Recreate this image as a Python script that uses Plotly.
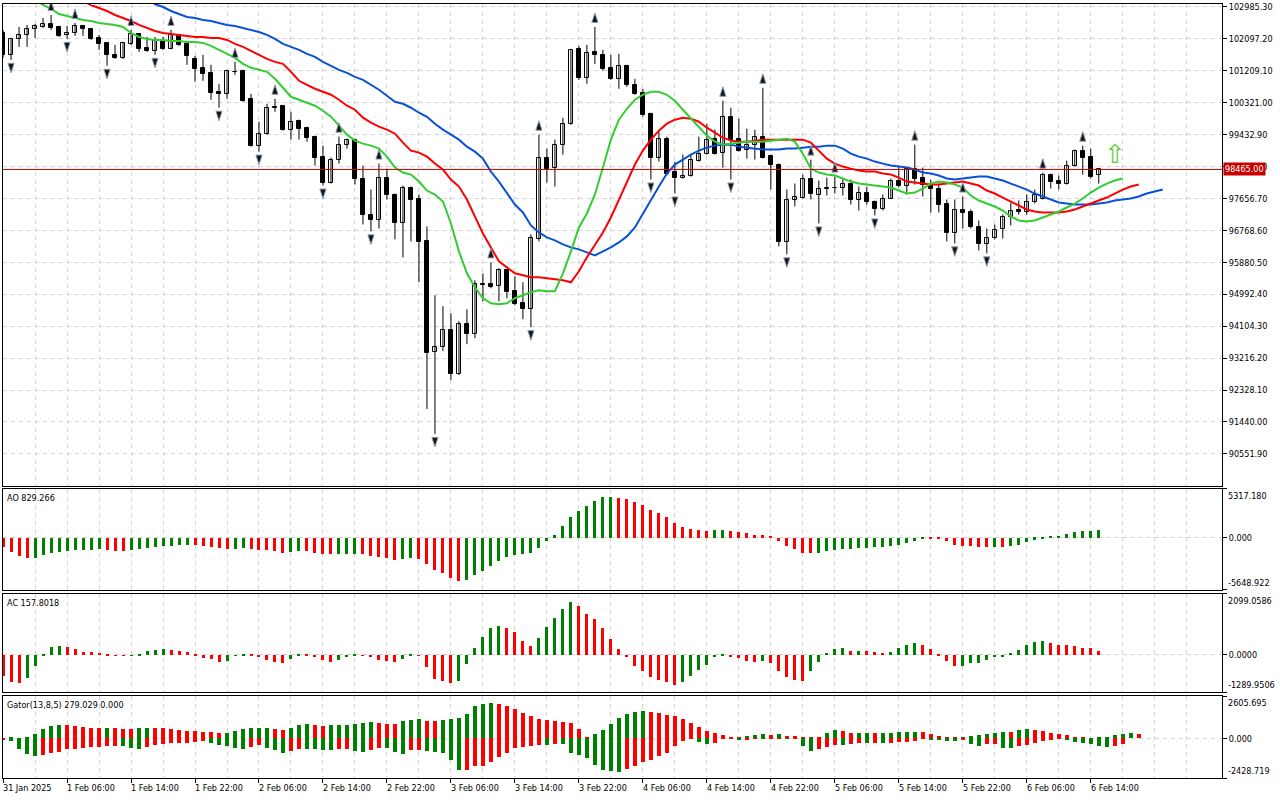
# -*- coding: utf-8 -*-

# Import needed libraries
import pandas as pd
import plotly.graph_objects as go
from plotly.subplots import make_subplots

# Hourly bars, the first visible one opens 31 Jan 2025 22:00
first_bar = '2025-01-31 22:00'

# OHLC prices (138 bars)
bar_open = [102263, 101653, 102097, 102208, 102375, 102430, 102513, 102430, 102208, 102263,
            102458, 102375, 102125, 101986, 101653, 101570, 101958, 102236, 101847, 101764,
            102041, 101820, 102208, 101958, 101542, 101292, 101153, 100626, 100571, 101181,
            101209, 100432, 99128, 99461, 100210, 100238, 99572, 99822, 99627, 99377,
            98822, 98100, 98739, 99156, 99294, 98212, 97212, 97046, 98240, 97768,
            96963, 97962, 97657, 96463, 93383, 93521, 93993, 92772, 94160, 93882,
            95270, 95270, 95215, 95659, 95076, 94742, 94576, 96519, 98795, 98517,
            99156, 99738, 101820, 101015, 101736, 101653, 101292, 100987, 101348, 100820,
            100598, 100016, 98795, 99322, 98406, 98240, 98295, 98712, 98906, 99322,
            98934, 99933, 99322, 99017, 99156, 99377, 98850, 98600, 96436, 97629,
            97685, 98212, 97768, 97934, 97962, 97962, 98073, 97629, 97823, 97573,
            97379, 97657, 98156, 98017, 98489, 98240, 98045, 97934, 97518, 96685,
            97324, 97268, 96852, 96380, 96546, 96797, 97129, 97324, 97268, 97546,
            97657, 98323, 98156, 98073, 98573, 98989, 98822, 98323]
bar_high = [102347, 102125, 102430, 102486, 102513, 102680, 102763, 102458, 102458, 102541,
            102486, 102402, 102208, 101986, 101931, 102014, 102347, 102263, 102152, 102152,
            102152, 102347, 102236, 101986, 101625, 101653, 101376, 100848, 101237, 101459,
            101237, 100571, 99794, 100293, 100432, 100238, 100071, 99850, 99655, 99405,
            99128, 98795, 99377, 99322, 99322, 98573, 97906, 98629, 98489, 97796,
            98017, 97990, 97768, 96880, 94965, 94659, 94465, 94243, 94576, 95381,
            95575, 95881, 95714, 95686, 95492, 95326, 96658, 99433, 99045, 99294,
            99905, 101820, 101903, 101931, 102430, 101792, 101653, 101681, 101376, 100987,
            100709, 100043, 99516, 99377, 98684, 98878, 98878, 99377, 99738, 99572,
            100377, 100182, 99877, 99600, 99572, 100737, 98878, 98629, 97906, 98073,
            98323, 98739, 98156, 98240, 98267, 98212, 98184, 97990, 97990, 97601,
            97768, 98212, 98545, 98517, 99156, 98517, 98184, 98073, 97629, 97629,
            97712, 97352, 97046, 96824, 96935, 97213, 97546, 97601, 97768, 97906,
            98378, 98351, 98295, 98712, 99017, 99128, 99045, 98465]
bar_low = [101570, 101514, 101875, 101875, 102125, 102402, 102347, 102152, 102097, 102180,
           102180, 102069, 101792, 101348, 101542, 101542, 101931, 101736, 101736, 101653,
           101792, 101810, 101903, 101376, 100904, 100932, 100404, 100182, 100432, 101098,
           100349, 99100, 98961, 99433, 100071, 99544, 99294, 99294, 99239, 98573,
           98017, 98073, 98629, 99045, 98045, 96935, 96741, 96824, 97629, 96519,
           96019, 96463, 95326, 91801, 91107, 93410, 92605, 92744, 93605, 93771,
           94798, 95159, 94798, 94881, 94687, 94298, 94077, 96463, 98100, 97990,
           98878, 99711, 100959, 100848, 101403, 101209, 100959, 100709, 100765, 100543,
           99933, 98184, 98684, 98295, 97795, 98212, 98267, 98684, 98878, 98878,
           98517, 98184, 98961, 98767, 98739, 98767, 97906, 96325, 96103, 97435,
           97657, 97629, 96963, 97740, 97796, 97740, 97490, 97324, 97490, 97185,
           97324, 97650, 97962, 97768, 98045, 97712, 97268, 97268, 96463, 96408,
           96824, 96824, 96213, 96130, 96519, 96546, 96907, 97212, 97212, 97518,
           97629, 97934, 97906, 98045, 98545, 98323, 98212, 98073]
bar_close = [101653, 102097, 102208, 102375, 102458, 102513, 102402, 102180, 102263, 102458,
             102375, 102097, 101958, 101653, 101570, 101986, 102236, 101820, 101764, 102041,
             101820, 102208, 101931, 101625, 101265, 101126, 100598, 100571, 101209, 101167,
             100377, 99128, 99461, 100182, 100182, 99572, 99794, 99600, 99350, 98795,
             98100, 98739, 99156, 99294, 98212, 97212, 97046, 98240, 97768, 96963,
             97962, 97629, 96436, 93355, 93521, 93993, 92772, 94160, 93882, 95270,
             95256, 95187, 95659, 95048, 94715, 94576, 96546, 98795, 98489, 99156,
             99738, 101792, 101015, 101709, 101653, 101265, 100987, 101348, 100820, 100571,
             99988, 98795, 99322, 98351, 98240, 98295, 98739, 98906, 99294, 98906,
             99933, 99294, 98989, 99156, 99377, 98795, 98600, 96436, 97629, 97712,
             98212, 97796, 97934, 97962, 97948, 98073, 97629, 97823, 97546, 97379,
             97657, 98156, 98017, 98489, 98212, 98045, 97934, 97490, 96685, 97324,
             97240, 96852, 96380, 96546, 96769, 97129, 97296, 97268, 97573, 97768,
             98323, 98128, 98073, 98573, 98989, 98795, 98267, 98465]

# Alligator lines (already shifted ahead), each list starts at the given bar
jaw_start = 18
jaw = [103180, 103068, 102985, 102874, 102790, 102707, 102679, 102624, 102596, 102541,
       102486, 102458, 102402, 102347, 102291, 102208, 102097, 101958, 101875, 101792,
       101680, 101597, 101459, 101348, 101237, 101153, 101042, 100959, 100821, 100682,
       100515, 100349, 100293, 100182, 100043, 99932, 99738, 99572, 99433, 99294,
       99100, 98961, 98767, 98406, 98128, 97795, 97490, 97268, 96907, 96713,
       96574, 96491, 96380, 96297, 96241, 96158, 96075, 96186, 96297, 96435,
       96602, 96852, 97240, 97629, 97990, 98351, 98601, 98740, 98878, 98989,
       99072, 99128, 99156, 99156, 99100, 99072, 99045, 99017, 99017, 99017,
       99045, 99045, 99072, 99100, 99100, 99128, 99128, 99045, 98905, 98822,
       98767, 98684, 98628, 98573, 98545, 98517, 98462, 98378, 98350, 98295,
       98212, 98184, 98212, 98239, 98267, 98267, 98212, 98156, 98072, 97990,
       97906, 97795, 97712, 97629, 97545, 97517, 97490, 97490, 97490, 97517,
       97545, 97601, 97629, 97656, 97712, 97795, 97851, 97906]
teeth_start = 10
teeth = [103152, 103041, 102957, 102874, 102763, 102679, 102596, 102486, 102402, 102319,
         102263, 102235, 102208, 102180, 102152, 102152, 102124, 102124, 102069, 101958,
         101875, 101764, 101653, 101542, 101459, 101403, 101181, 100932, 100821, 100710,
         100626, 100543, 100404, 100238, 100127, 99905, 99766, 99655, 99572, 99460,
         99211, 98989, 98933, 98822, 98628, 98462, 98184, 97990, 97629, 97157,
         96685, 96297, 95908, 95741, 95575, 95520, 95464, 95464, 95437, 95409,
         95381, 95325, 95631, 96019, 96352, 96713, 97129, 97629, 98128, 98601,
         98989, 99294, 99544, 99738, 99849, 99905, 99877, 99794, 99627, 99488,
         99349, 99267, 99239, 99239, 99267, 99294, 99294, 99294, 99294, 99294,
         99294, 99211, 98989, 98767, 98628, 98545, 98489, 98434, 98406, 98406,
         98351, 98323, 98240, 98128, 98100, 98072, 98045, 98045, 98072, 98100,
         98128, 98072, 98017, 97878, 97795, 97684, 97573, 97462, 97351, 97296,
         97268, 97268, 97268, 97296, 97351, 97434, 97517, 97601, 97684, 97795,
         97906, 97990, 98045]
lips_start = 4
lips = [103180, 103041, 102930, 102790, 102735, 102679, 102624, 102596, 102541, 102513,
        102486, 102430, 102263, 102152, 102097, 102069, 102069, 102041, 102041, 102014,
        102014, 101986, 101903, 101792, 101680, 101569, 101403, 101292, 101237, 101181,
        100987, 100737, 100487, 100404, 100321, 100238, 100099, 99933, 99683, 99433,
        99266, 99183, 99128, 99044, 98822, 98517, 98378, 98323, 98128, 97878,
        97768, 97573, 96962, 96186, 95575, 95187, 94881, 94743, 94715, 94743,
        94881, 94965, 95048, 95103, 95076, 95076, 95575, 96186, 96852, 97240,
        97768, 98517, 99294, 99849, 100154, 100404, 100543, 100626, 100626, 100543,
        100376, 100126, 99877, 99627, 99405, 99239, 99156, 99183, 99211, 99239,
        99239, 99239, 99267, 99294, 99322, 99239, 98905, 98489, 98378, 98323,
        98295, 98212, 98128, 98072, 98045, 98017, 97990, 97962, 97878, 97795,
        97823, 97934, 98072, 98128, 98100, 98045, 97962, 97740, 97601, 97517,
        97434, 97323, 97157, 97046, 97018, 97046, 97129, 97212, 97296, 97407,
        97517, 97656, 97823, 97962, 98072, 98156, 98212]

# Bars that carry a fractal arrow
fractal_up = [6, 9, 16, 21, 29, 34, 42, 47, 61, 67, 74, 90, 95, 101, 104, 114, 120, 130, 135]
fractal_down = [1, 8, 13, 19, 27, 32, 40, 46, 54, 66, 81, 84, 91, 98, 102, 109, 119, 123]

# Buy signal arrow and the current bid
signal_bar = [139]
signal_price = [98906]
last_price = 98465.00

# Awesome oscillator and accelerator (one value per bar)
ao = [-1014, -1557, -2027, -2208, -2172, -1919, -1665, -1557, -1448, -1376,
      -1340, -1303, -1267, -1376, -1412, -1448, -1303, -1267, -1158, -1014,
      -905, -833, -796, -778, -796, -905, -1014, -1158, -1267, -1195,
      -1158, -1195, -1303, -1376, -1448, -1629, -1557, -1448, -1484, -1665,
      -1774, -1810, -1792, -1774, -1756, -1810, -1991, -2100, -2172, -2462,
      -2281, -2208, -2353, -2824, -3548, -3837, -4380, -4706, -4634, -4018,
      -3620, -3113, -2570, -2100, -1919, -1774, -1665, -1122, -362, 326,
      1339, 2317, 2968, 3511, 4054, 4489, 4495, 4344, 4235, 3946,
      3620, 3077, 2679, 2244, 1593, 1231, 977, 869, 796, 805,
      815, 800, 688, 579, 362, 350, 145, -362, -833, -1267,
      -1665, -1680, -1670, -1484, -1376, -1267, -1260, -1158, -1086, -1014,
      -1005, -905, -724, -507, -290, -60, -75, -110, -362, -724,
      -833, -905, -1014, -1020, -1005, -1030, -905, -760, -471, -217,
      -36, 140, 250, 430, 640, 730, 790, 829.266]
ac = [-707, -935, -969, -798, -388, 34, 296, 319, 296, 205,
      125, 103, 80, 23, -11, -20, -5, 57, 148, 182,
      228, 182, 148, 114, 11, -80, -148, -251, -217, -23,
      46, 23, -68, -171, -251, -260, -137, 34, 20, -30,
      -171, -251, -171, -34, 23, -23, -46, -171, -194, -251,
      -137, 34, -23, -422, -821, -878, -969, -878, -308, 262,
      638, 946, 1003, 946, 798, 490, 319, 604, 969, 1288,
      1596, 1824, 1687, 1402, 1254, 946, 547, 205, -57, -388,
      -536, -741, -855, -935, -1015, -935, -707, -502, -331, -57,
      23, -34, -80, -194, -251, -217, -285, -559, -764, -844,
      -878, -559, -251, 91, 228, 235, 148, 155, 148, 114,
      91, 114, 262, 342, 433, 353, 228, 57, -194, -388,
      -380, -285, -280, -171, -57, -34, 80, 182, 353, 456,
      490, 410, 353, 345, 330, 262, 255, 157.8018]

# Gator oscillator, upper runs 5 bars past the last candle, lower 3 bars
gator_up = [20, 81, 10, 30, 284, 548, 751, 812, 800, 751,
            690, 650, 640, 650, 645, 589, 548, 609, 650, 645,
            609, 548, 487, 447, 440, 406, 400, 345, 350, 447,
            548, 609, 650, 655, 548, 487, 650, 812, 853, 812,
            751, 792, 800, 832, 853, 954, 1035, 954, 893, 853,
            1096, 1157, 1160, 1096, 1090, 1157, 1165, 1238, 1523, 1969,
            2132, 2192, 2132, 2010, 1827, 1583, 1360, 1218, 1117, 1056,
            1035, 914, 548, 61, 264, 508, 873, 1238, 1482, 1604,
            1665, 1604, 1543, 1421, 1360, 1177, 934, 690, 447, 325,
            203, 102, 61, 142, 203, 264, 203, 264, 162, 142,
            102, 70, 45, 345, 487, 426, 325, 330, 335, 330,
            335, 340, 365, 406, 410, 365, 264, 142, 102, 61,
            102, 142, 203, 264, 305, 406, 400, 487, 548, 487,
            447, 345, 284, 183, 81, 41, 20, 41, 102, 180,
            260, 330, 279.029]
gator_down = [-61, -162, -670, -934, -1076, -1015, -873, -812, -670, -629,
              -568, -560, -508, -467, -460, -467, -568, -629, -508, -406,
              -365, -305, -300, -264, -203, -162, -264, -406, -467, -568,
              -629, -508, -426, -609, -711, -873, -771, -629, -635, -670,
              -700, -720, -670, -665, -771, -832, -690, -589, -595, -832,
              -974, -731, -725, -771, -860, -873, -1360, -1929, -1920, -1726,
              -1720, -1482, -1177, -873, -568, -508, -447, -386, -395, -325,
              -330, -873, -1056, -1238, -1624, -1929, -1990, -2050, -1868, -1685,
              -1482, -1320, -1117, -873, -447, -142, -41, -203, -325, -264,
              -41, -20, -61, -60, -20, -41, -20, -10, -41, -35,
              -447, -751, -670, -508, -406, -410, -345, -305, -310, -305,
              -310, -264, -244, -203, -142, -41, -45, -102, -142, -162,
              -122, -325, -467, -365, -360, -568, -575, -467, -406, -264,
              -162, -81, -41, -122, -223, -305, -365, -467, -508, -467,
              -365]

# Axis labels
price_ticks = [102985.30, 102097.20, 101209.10, 100321.00, 99432.90, 98544.80, 97656.70, 96768.60,
               95880.50, 94992.40, 94104.30, 93216.20, 92328.10, 91440.00, 90551.90]
ao_scale = [-5648.922, 5317.180]
ac_scale = [-1289.9506, 2099.0586]
gator_scale = [-2428.719, 2605.695]
time_label_bars = [0, 8, 16, 24, 32, 40, 48, 56, 64, 72, 80, 88, 96, 104, 112, 120, 128, 136]
time_labels = ['31 Jan 2025', '1 Feb 06:00', '1 Feb 14:00', '1 Feb 22:00', '2 Feb 06:00', '2 Feb 14:00',
               '2 Feb 22:00', '3 Feb 06:00', '3 Feb 14:00', '3 Feb 22:00', '4 Feb 06:00', '4 Feb 14:00',
               '4 Feb 22:00', '5 Feb 06:00', '5 Feb 14:00', '5 Feb 22:00', '6 Feb 06:00', '6 Feb 14:00']

# Colours and fonts
green_bar = '#008000'
red_bar = '#ff0000'
grid_col = '#d4d4d4'
grid_dash = '4px,4px'
font_name = 'DejaVu Sans Condensed, DejaVu Sans'
font_size = 9

# Time axis, one slot per hour (past the last candle too, for the shifted lines)
times = pd.date_range(first_bar, periods = 160, freq = 'h')
hour = 3600 * 1000
n_bars = len(bar_open)
x_range = [times[0] - pd.Timedelta(seconds = 30), times[0] + pd.Timedelta(hours = 152.41)]

# Main panel price range and how much price one screen pixel is worth
price_range = [89663.9, 103068.6]
px_price = (price_range[1] - price_range[0]) / 483.0


# Green when the bar grew compared with the previous one, red otherwise
def rise_colors(values, magnitude = False):
    colors = [red_bar]
    for k in range(1, len(values)):
        a, b = values[k], values[k - 1]
        if magnitude:
            a, b = abs(a), abs(b)
        colors.append(green_bar if a > b else red_bar)
    return colors


fig = make_subplots(rows = 4, cols = 1, shared_xaxes = True, vertical_spacing = 0.005)

# Candle wicks as one broken line
wick_x, wick_y = [], []
for i in range(n_bars):
    wick_x += [times[i], times[i], None]
    wick_y += [bar_low[i], bar_high[i], None]
fig.add_trace(go.Scatter(x = wick_x, y = wick_y, mode = 'lines',
                         line = dict(color = 'black', width = 1), hoverinfo = 'skip'), row = 1, col = 1)

# Candle bodies, white for rising bars and black for falling ones
for rising, fill in [(True, 'white'), (False, 'black')]:
    idx = [i for i in range(n_bars) if (bar_close[i] >= bar_open[i]) == rising]
    fig.add_trace(go.Bar(
        x = [times[i] for i in idx],
        y = [abs(bar_close[i] - bar_open[i]) for i in idx],
        base = [min(bar_open[i], bar_close[i]) for i in idx],
        width = 0.5 * hour,
        marker = dict(color = fill, line = dict(color = 'black', width = 1))
    ), row = 1, col = 1)

# Alligator lines
for start, vals, col in [(jaw_start, jaw, '#0a50d8'), (teeth_start, teeth, '#ff0000'), (lips_start, lips, '#33cc33')]:
    fig.add_trace(go.Scatter(x = times[start:start + len(vals)], y = vals, mode = 'lines',
                             line = dict(color = col, width = 2)), row = 1, col = 1)

# Fractal arrows above the highs and below the lows
fig.add_trace(go.Scatter(
    x = [times[i] for i in fractal_up],
    y = [bar_high[i] + 14 * px_price for i in fractal_up],
    mode = 'markers',
    marker = dict(symbol = 'arrow', angle = 0, size = 10, color = '#151515', line = dict(color = '#8c9bb0', width = 1))
), row = 1, col = 1)
fig.add_trace(go.Scatter(
    x = [times[i] for i in fractal_down],
    y = [bar_low[i] - 13 * px_price for i in fractal_down],
    mode = 'markers',
    marker = dict(symbol = 'arrow', angle = 180, size = 10, color = '#151515', line = dict(color = '#8c9bb0', width = 1))
), row = 1, col = 1)

# Oscillator histograms
fig.add_trace(go.Bar(x = times[:len(ao)], y = ao, width = 0.375 * hour,
                     marker = dict(color = rise_colors(ao), line = dict(width = 0))), row = 2, col = 1)
fig.add_trace(go.Bar(x = times[:len(ac)], y = ac, width = 0.375 * hour,
                     marker = dict(color = rise_colors(ac), line = dict(width = 0))), row = 3, col = 1)
fig.add_trace(go.Bar(x = times[:len(gator_up)], y = gator_up, width = 0.45 * hour,
                     marker = dict(color = rise_colors(gator_up), line = dict(width = 0))), row = 4, col = 1)
fig.add_trace(go.Bar(x = times[:len(gator_down)], y = gator_down, width = 0.45 * hour,
                     marker = dict(color = rise_colors(gator_down, magnitude = True), line = dict(width = 0))), row = 4, col = 1)

# Current bid line
fig.add_shape(type = 'line', xref = 'x domain', yref = 'y', x0 = 0, x1 = 1, y0 = last_price, y1 = last_price,
              line = dict(color = '#d40000', width = 1), layer = 'above')

# Panel layout: pixel rows of the original window turned into paper fractions
x_dom = [3 / 1280, 1222 / 1280]
y_doms = [[1 - 485 / 800, 1 - 2 / 800], [1 - 589 / 800, 1 - 488 / 800],
          [1 - 692 / 800, 1 - 593 / 800], [1 - 778 / 800, 1 - 696 / 800]]

major_times = [times[b] for b in time_label_bars]
minor_times = [times[b] for b in range(4, 149, 4)]

for r in range(1, 5):
    fig.update_xaxes(
        type = 'date', range = x_range, domain = x_dom,
        showline = True, mirror = True, linecolor = 'black', linewidth = 1,
        tickmode = 'array', tickvals = major_times, showticklabels = False,
        ticks = 'outside' if r == 4 else '', ticklen = 4, tickcolor = 'black',
        showgrid = True, gridcolor = grid_col, griddash = grid_dash, gridwidth = 1,
        minor = dict(tickmode = 'array', tickvals = minor_times, showgrid = True,
                     gridcolor = grid_col, griddash = grid_dash, ticks = ''),
        zeroline = False, row = r, col = 1)

label_font = dict(family = font_name, size = font_size, color = 'black')
common_y = dict(side = 'right', showline = True, mirror = True, linecolor = 'black', linewidth = 1,
                ticks = 'outside', ticklen = 4, tickcolor = 'black', tickmode = 'array',
                tickfont = label_font, ticklabeloverflow = 'allow',
                showgrid = True, gridcolor = grid_col, griddash = grid_dash, zeroline = False)

fig.update_yaxes(range = price_range, domain = y_doms[0], tickvals = price_ticks,
                 ticktext = ['%.2f' % v for v in price_ticks], **common_y, row = 1, col = 1)

annotations = []
sub_panels = [(ao_scale, 3, 'AO %s' % ao[-1]), (ac_scale, 4, 'AC %s' % ac[-1]),
              (gator_scale, 3, 'Gator(13,8,5) %.3f 0.000' % gator_up[-1])]
for k, (scale, dec, title) in enumerate(sub_panels):
    r = k + 2
    fig.update_yaxes(range = scale, domain = y_doms[r - 1], tickvals = [scale[0], 0, scale[1]],
                     ticktext = ['', '%.*f' % (dec, 0.0), ''], **common_y, row = r, col = 1)
    yname = 'y%d' % r
    annotations.append(dict(xref = 'paper', yref = yname, x = 1226 / 1280, y = scale[1], xanchor = 'left',
                            yanchor = 'top', text = '%.*f' % (dec, scale[1]), showarrow = False,
                            font = label_font))
    annotations.append(dict(xref = 'paper', yref = yname, x = 1226 / 1280, y = scale[0], xanchor = 'left',
                            yanchor = 'bottom', text = '%.*f' % (dec, scale[0]), showarrow = False,
                            font = label_font))
    annotations.append(dict(xref = 'paper', yref = 'paper', x = 5 / 1280, y = y_doms[r - 1][1], xanchor = 'left',
                            yanchor = 'top', yshift = -2, text = title, showarrow = False,
                            font = label_font))

# Time labels start at their tick, as in the terminal
for b, txt in zip(time_label_bars, time_labels):
    annotations.append(dict(xref = 'x4', yref = 'paper', x = times[b], y = y_doms[3][0], xanchor = 'left',
                            yanchor = 'top', yshift = -3, xshift = -2, text = txt, showarrow = False,
                            font = label_font))

# Bid price box on the price scale
annotations.append(dict(xref = 'paper', yref = 'y', x = 1223 / 1280, y = last_price, xanchor = 'left',
                        yanchor = 'middle', text = '%.2f' % last_price, showarrow = False, bgcolor = '#c80000',
                        borderpad = 1, font = dict(family = font_name, size = font_size, color = 'white')))

# Buy signal arrow
for b, p in zip(signal_bar, signal_price):
    annotations.append(dict(xref = 'x', yref = 'y', x = times[b], y = p, text = '\u21e7', showarrow = False,
                            font = dict(family = 'DejaVu Sans', size = 26, color = '#5ccc3c')))

fig.update_layout(
    width = 1280, height = 800,
    margin = dict(l = 0, r = 0, t = 0, b = 0),
    paper_bgcolor = 'white', plot_bgcolor = 'white',
    barmode = 'overlay', bargap = 0,
    showlegend = False,
    annotations = annotations,
    font = label_font
)

fig.write_html('out.html', config = {'displayModeBar': False},
               post_script = "document.body.style.margin='0';")
